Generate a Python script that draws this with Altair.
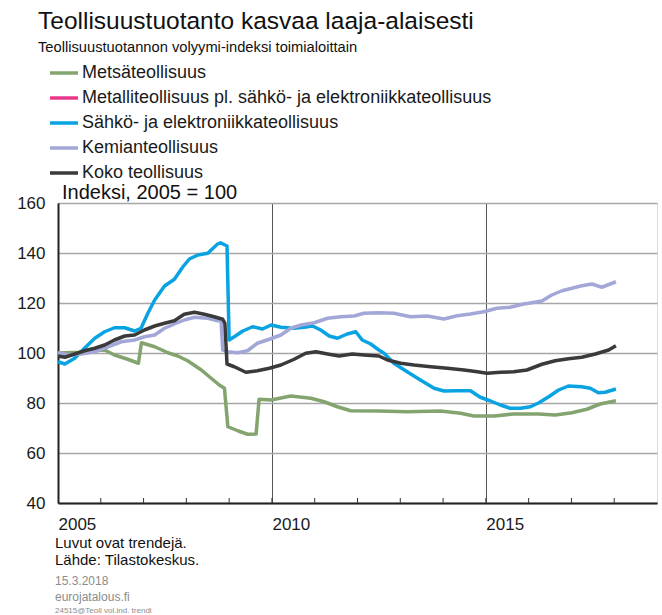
import altair as alt
import pandas as pd

# ---------------- data ----------------
series_names = [
    "Metsäteollisuus",
    "Metalliteollisuus pl. sähkö- ja elektroniikkateollisuus",
    "Sähkö- ja elektroniikkateollisuus",
    "Kemianteollisuus",
    "Koko teollisuus",
]
series_colors = ["#83a46e", "#e8388b", "#0aa3e2", "#a3a7d8", "#3a3a3a"]

metsa_x = [2005.0, 2005.5, 2005.9, 2006.09, 2006.32, 2006.63, 2006.88, 2006.95,
           2007.26, 2007.57, 2007.80, 2008.03, 2008.35, 2008.58, 2008.77, 2008.89,
           2008.97, 2009.20, 2009.43, 2009.63, 2009.70, 2009.98, 2010.44, 2010.91,
           2011.22, 2011.53, 2011.84, 2012.50, 2013.16, 2013.94, 2014.41, 2014.72,
           2015.19, 2015.65, 2016.23, 2016.62, 2017.01, 2017.36, 2017.67, 2018.04]
metsa_y = [100.0, 100.3, 101.0, 101.2, 99.2, 97.5, 95.9, 104.1,
           102.5, 100.1, 98.8, 96.9, 93.2, 89.9, 87.2, 85.9,
           70.5, 68.9, 67.5, 67.6, 81.5, 81.2, 82.8, 81.9,
           80.5, 78.5, 76.9, 76.8, 76.5, 76.8, 75.9, 74.8,
           74.8, 75.6, 75.6, 75.2, 76.1, 77.5, 79.6, 80.9]

metalli_x = []
metalli_y = []

sahko_x = [2005.0, 2005.16, 2005.39, 2005.62, 2005.86,
           2006.09, 2006.32, 2006.56, 2006.79, 2006.94,
           2007.10, 2007.26, 2007.49, 2007.72, 2007.92,
           2008.07, 2008.27, 2008.50, 2008.73, 2008.80, 2008.95,
           2009.0, 2009.12, 2009.32, 2009.55, 2009.78, 2009.98,
           2010.21, 2010.52, 2010.75, 2010.95,
           2011.14, 2011.34, 2011.53, 2011.76, 2011.96,
           2012.11, 2012.31, 2012.50, 2012.62, 2012.85,
           2013.16, 2013.47, 2013.79,
           2014.02, 2014.33, 2014.64, 2014.87,
           2015.11, 2015.34, 2015.57, 2015.81,
           2016.04, 2016.23, 2016.47, 2016.70, 2016.93,
           2017.24, 2017.44, 2017.63, 2017.79, 2018.04]
sahko_y = [96.5, 95.6, 97.9, 101.9, 105.9,
           108.5, 110.1, 110.1, 108.8, 109.9,
           115.9, 121.2, 126.8, 129.5, 134.5,
           137.6, 139.2, 139.9, 143.6, 144.1, 142.8,
           105.2, 106.5, 108.8, 110.5, 109.6, 111.2,
           110.3, 109.9, 110.3, 110.8,
           109.2, 106.8, 105.9, 107.6, 108.5,
           105.2, 103.6, 101.2, 99.9, 95.9,
           92.5, 89.2, 85.9,
           84.8, 84.9, 84.9, 82.3,
           80.8, 79.2, 77.9, 77.9,
           78.5, 80.0, 82.5, 85.2, 86.8,
           86.5, 85.9, 84.1, 84.3, 85.6]

kemia_x = [2005.0, 2005.23, 2005.54, 2005.86, 2006.17, 2006.48, 2006.79,
           2007.02, 2007.26, 2007.49, 2007.72, 2007.95,
           2008.19, 2008.50, 2008.73, 2008.81, 2008.85, 2008.97,
           2009.20, 2009.43, 2009.66, 2009.94,
           2010.21, 2010.44, 2010.68, 2010.99,
           2011.30, 2011.61, 2011.92, 2012.15, 2012.50, 2012.85,
           2013.24, 2013.63, 2014.02, 2014.33, 2014.64, 2014.95,
           2015.26, 2015.57, 2015.88, 2016.0, 2016.31, 2016.54, 2016.78,
           2017.01, 2017.24, 2017.48, 2017.71, 2018.04]
kemia_y = [100.1, 99.2, 99.6, 100.5, 102.5, 104.5, 105.2,
           106.5, 107.2, 109.9, 111.6, 113.2,
           114.3, 113.9, 112.9, 113.2, 101.2, 100.5,
           100.1, 100.9, 103.9, 105.5,
           107.2, 109.9, 111.2, 112.1,
           113.9, 114.5, 114.8, 115.9, 116.1, 115.9,
           114.5, 114.8, 113.6, 114.9, 115.6, 116.5,
           117.9, 118.3, 119.6, 119.9, 120.8, 123.2, 124.9,
           125.9, 126.9, 127.6, 126.3, 128.5]

koko_x = [2005.0, 2005.16, 2005.39, 2005.62, 2005.86,
          2006.09, 2006.32, 2006.56, 2006.79,
          2007.02, 2007.26, 2007.49, 2007.72, 2007.95,
          2008.19, 2008.42, 2008.65, 2008.85, 2008.90, 2008.95,
          2009.12, 2009.39, 2009.66, 2009.94,
          2010.21, 2010.52, 2010.79,
          2011.03, 2011.30, 2011.57, 2011.88,
          2012.15, 2012.50, 2012.70,
          2013.01, 2013.32, 2013.71,
          2014.10, 2014.49, 2014.80,
          2015.03, 2015.34, 2015.65, 2015.96,
          2016.31, 2016.62, 2016.93,
          2017.24, 2017.56, 2017.87, 2018.04]
koko_y = [98.8, 98.3, 99.6, 100.9, 101.9,
          103.2, 105.2, 106.8, 107.2,
          109.2, 110.8, 111.9, 112.9, 115.5,
          116.3, 115.5, 114.5, 113.5, 111.9, 95.6,
          94.5, 92.3, 92.9, 93.9,
          95.2, 97.5, 99.9,
          100.5, 99.6, 98.8, 99.6,
          99.2, 98.8, 97.2,
          95.9, 95.2, 94.5,
          93.9, 93.2, 92.5,
          91.9, 92.3, 92.5, 93.2,
          95.5, 96.9, 97.7,
          98.3, 99.6, 101.2, 102.9]

x_label_years = [2005, 2010, 2015]
tick_years = list(range(2006, 2019))
y_ticks = [40, 60, 80, 100, 120, 140, 160]

title_text = "Teollisuustuotanto kasvaa laaja-alaisesti"
subtitle_text = "Teollisuustuotannon volyymi-indeksi toimialoittain"
unit_text = "Indeksi, 2005 = 100"
note_lines = ["Luvut ovat trendejä.", "Lähde: Tilastokeskus."]
date_text = "15.3.2018"
site_text = "eurojatalous.fi"
code_text = "24515@Teoll vol.ind. trendi"

# ---------------- build table ----------------
rows = []
for name, xs, ys in [
    (series_names[0], metsa_x, metsa_y),
    (series_names[1], metalli_x, metalli_y),
    (series_names[2], sahko_x, sahko_y),
    (series_names[3], kemia_x, kemia_y),
    (series_names[4], koko_x, koko_y),
]:
    for i, (a, b) in enumerate(zip(xs, ys)):
        rows.append({"series": name, "year": a, "value": b, "i": i})
df = pd.DataFrame(rows)

FONT = "Liberation Sans"

lines = alt.Chart(df).mark_line(strokeWidth=3.5, strokeJoin="round").encode(
    x=alt.X("year:Q",
            scale=alt.Scale(domain=[2005, 2019], nice=False, zero=False),
            axis=alt.Axis(values=x_label_years, format="d", labelAlign="left",
                          labelBaseline="top", labelFlush=False, labelBound=False,
                          grid=True, gridColor="#555555", gridWidth=1,
                          ticks=False, domainColor="#222222", domainWidth=2,
                          labelFontSize=17, labelPadding=13, labelColor="#1a1a1a",
                          title=None)),
    y=alt.Y("value:Q",
            scale=alt.Scale(domain=[40, 160], nice=False, zero=False),
            axis=alt.Axis(values=y_ticks, grid=True, gridColor="#a6a6a6",
                          gridWidth=1.5, ticks=False, domainColor="#222222",
                          domainWidth=2, labelFontSize=17, labelPadding=13,
                          labelColor="#1a1a1a", title=None)),
    color=alt.Color("series:N",
                    scale=alt.Scale(domain=series_names, range=series_colors),
                    legend=alt.Legend(orient="none", legendX=-10, legendY=-146,
                                      title=None, symbolType="stroke",
                                      symbolStrokeWidth=3.5, symbolSize=784,
                                      labelFontSize=18, labelFont=FONT,
                                      labelColor="#1a1a1a", labelOffset=2,
                                      labelLimit=700, rowPadding=-0.5,
                                      direction="vertical")),
    order="i:Q",
)

ticks_df = pd.DataFrame({"year": tick_years})
year_ticks = alt.Chart(ticks_df).mark_rule(color="#333333", strokeWidth=1).encode(
    x="year:Q", y=alt.value(300), y2=alt.value(295))


def label(text, x, y, size, color="#111111"):
    return alt.Chart(pd.DataFrame({"t": [text]})).mark_text(
        align="left", baseline="alphabetic", fontSize=size, font=FONT, color=color
    ).encode(x=alt.value(x), y=alt.value(y), text="t:N")


texts = [
    label(title_text, -20, -174, 24.5),
    label(subtitle_text, -20, -151, 14.7),
    label(unit_text, 4, -4, 20),
    label(note_lines[0], -3, 345, 15),
    label(note_lines[1], -3, 362, 15),
    label(date_text, -3, 382, 12, color="#8c8c8c"),
    label(site_text, -3, 398, 12, color="#8c8c8c"),
    label(code_text, -3, 410, 8, color="#8c8c8c"),
]

chart = alt.layer(lines, year_ticks, *texts).properties(
    width=599, height=300,
    padding={"left": 58, "top": 203, "right": 5, "bottom": 112},
    autosize=alt.AutoSizeParams(type="none"),
    background="white",
).configure_view(stroke="#7f7f7f", strokeWidth=1.5).configure(font=FONT)

chart.save("out.html", embed_options={"renderer": "svg", "actions": False})
